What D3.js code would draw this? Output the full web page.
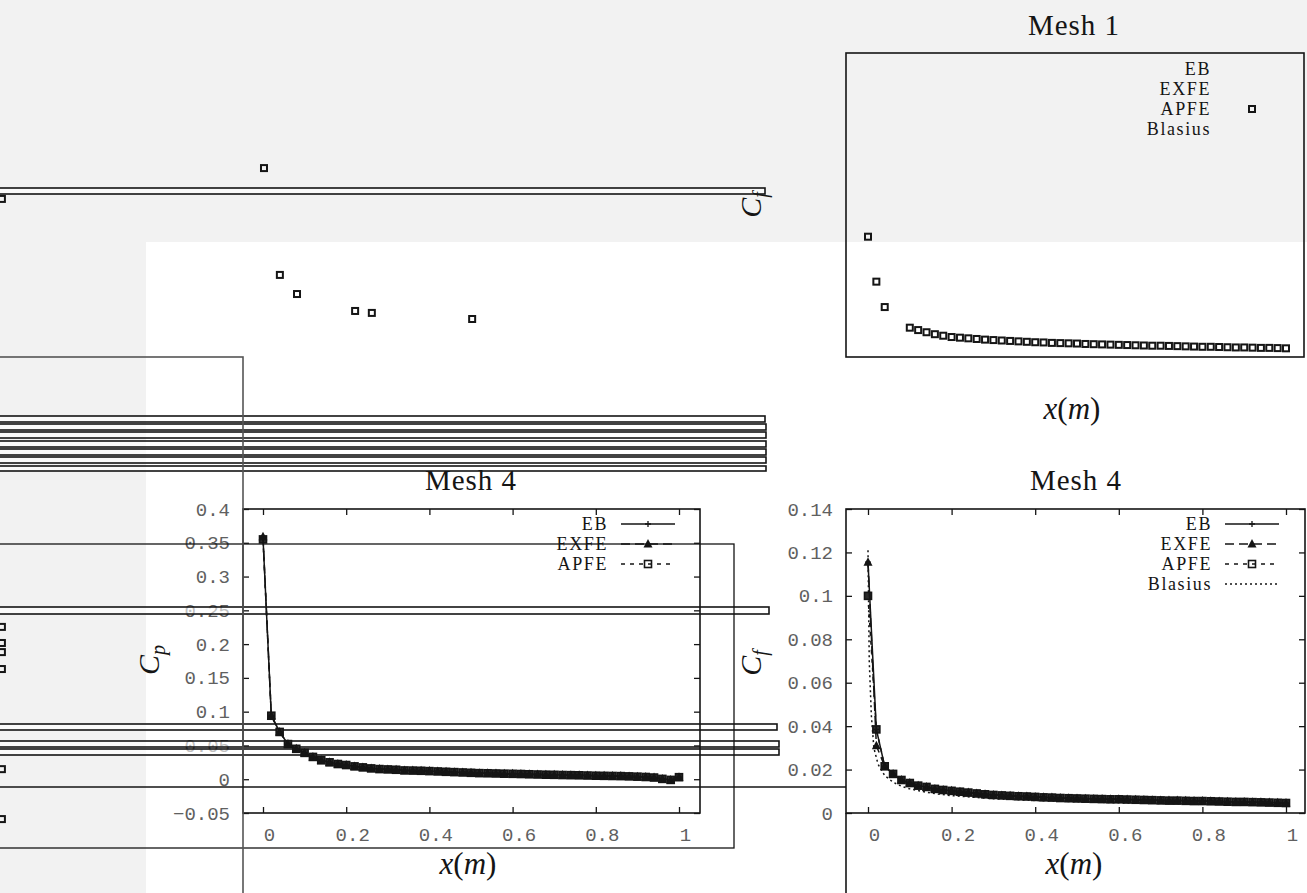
<!DOCTYPE html>
<html>
<head>
<meta charset="utf-8">
<script src="https://cdn.jsdelivr.net/npm/d3@7/dist/d3.min.js"></script>
<style>
  html, body { margin: 0; padding: 0; background: #fff; }
  svg { display: block; }
</style>
</head>
<body>
<svg id="chart" width="1307" height="893"></svg>
<script>
// ---------------- data ----------------
const xGrid = [0.00,0.02,0.04,0.06,0.08,0.10,0.12,0.14,0.16,0.18,0.20,0.22,0.24,0.26,0.28,0.30,0.32,0.34,0.36,0.38,
               0.40,0.42,0.44,0.46,0.48,0.50,0.52,0.54,0.56,0.58,0.60,0.62,0.64,0.66,0.68,0.70,0.72,0.74,0.76,0.78,
               0.80,0.82,0.84,0.86,0.88,0.90,0.92,0.94,0.96,0.98,1.00];

// Mesh 4, pressure coefficient
const cpEB   = [0.357,0.094,0.070,0.052,0.045,0.039,0.033,0.028,0.025,0.0225,0.021,0.019,0.0175,0.016,0.015,0.0145,0.014,0.013,0.0128,0.0125,
                0.012,0.0115,0.011,0.0105,0.010,0.0095,0.009,0.0088,0.0085,0.0082,0.008,0.0077,0.0073,0.007,0.0067,0.0065,0.0062,0.006,0.0058,0.0055,
                0.0052,0.005,0.0048,0.0046,0.0042,0.0038,0.0033,0.0025,0.0005,-0.001,0.003];
const cpEXFE = [0.359,0.094,0.070,0.052,0.045,0.039,0.033,0.028,0.025,0.0225,0.021,0.019,0.0175,0.016,0.015,0.0145,0.014,0.013,0.0128,0.0125,
                0.012,0.0115,0.011,0.0105,0.010,0.0095,0.009,0.0088,0.0085,0.0082,0.008,0.0077,0.0073,0.007,0.0067,0.0065,0.0062,0.006,0.0058,0.0055,
                0.0052,0.005,0.0048,0.0046,0.0042,0.0038,0.0033,0.0025,0.0005,-0.001,0.003];
const cpAPFE = [0.355,0.094,0.070,0.052,0.045,0.039,0.033,0.028,0.025,0.0225,0.021,0.019,0.0175,0.016,0.015,0.0145,0.014,0.013,0.0128,0.0125,
                0.012,0.0115,0.011,0.0105,0.010,0.0095,0.009,0.0088,0.0085,0.0082,0.008,0.0077,0.0073,0.007,0.0067,0.0065,0.0062,0.006,0.0058,0.0055,
                0.0052,0.005,0.0048,0.0046,0.0042,0.0038,0.0033,0.0025,0.0005,-0.001,0.003];

// Mesh 4, skin friction coefficient
const cfEB   = [0.1155,0.0385,0.0215,0.018,0.0152,0.0138,0.0126,0.012,0.0111,0.0106,0.0102,0.0098,0.0094,0.009,0.0086,0.0083,0.0081,0.0079,0.0077,0.0076,
                0.0074,0.0072,0.0071,0.0069,0.0068,0.0067,0.0066,0.0065,0.0064,0.0063,0.0063,0.0062,0.0061,0.006,0.0059,0.0058,0.0057,0.0057,0.0056,0.0055,
                0.0055,0.0054,0.0053,0.0052,0.0051,0.0051,0.005,0.0049,0.0048,0.0047,0.0046];
const cfEXFE = [0.1155,0.031,0.0215,0.018,0.0152,0.0138,0.0126,0.012,0.0111,0.0106,0.0102,0.0098,0.0094,0.009,0.0086,0.0083,0.0081,0.0079,0.0077,0.0076,
                0.0074,0.0072,0.0071,0.0069,0.0068,0.0067,0.0066,0.0065,0.0064,0.0063,0.0063,0.0062,0.0061,0.006,0.0059,0.0058,0.0057,0.0057,0.0056,0.0055,
                0.0055,0.0054,0.0053,0.0052,0.0051,0.0051,0.005,0.0049,0.0048,0.0047,0.0046];
const cfAPFE = [0.100,0.0385,0.0215,0.018,0.0152,0.0138,0.0126,0.012,0.0111,0.0106,0.0102,0.0098,0.0094,0.009,0.0086,0.0083,0.0081,0.0079,0.0077,0.0076,
                0.0074,0.0072,0.0071,0.0069,0.0068,0.0067,0.0066,0.0065,0.0064,0.0063,0.0063,0.0062,0.0061,0.006,0.0059,0.0058,0.0057,0.0057,0.0056,0.0055,
                0.0055,0.0054,0.0053,0.0052,0.0051,0.0051,0.005,0.0049,0.0048,0.0047,0.0046];
const blasiusX  = [0.0,0.003,0.008,0.014,0.024,0.04,0.06,0.08,0.10,0.15,0.20,0.30,0.40,0.50,0.60,0.70,0.80,0.90,1.00];
const blasiusCf = [0.121,0.070,0.045,0.030,0.0225,0.0172,0.0142,0.0123,0.0111,0.0092,0.0080,0.0066,0.0058,0.0052,0.0047,0.0044,0.0041,0.0039,0.0037];

// Mesh 1, APFE skin friction
const mesh1X    = [0.00,0.02,0.04,0.10,0.12,0.14,0.16,0.18,0.20,0.22,0.24,0.26,0.28,0.30,0.32,0.34,0.36,0.38,
                   0.40,0.42,0.44,0.46,0.48,0.50,0.52,0.54,0.56,0.58,0.60,0.62,0.64,0.66,0.68,0.70,0.72,0.74,0.76,0.78,
                   0.80,0.82,0.84,0.86,0.88,0.90,0.92,0.94,0.96,0.98,1.00];
const mesh1APFE = [0.0554,0.0347,0.023,0.0135,0.0124,0.0114,0.0105,0.0098,0.0092,0.0089,0.0086,0.0083,0.008,0.0078,0.0076,0.0074,0.0072,0.007,
                   0.0068,0.0067,0.0065,0.0064,0.0063,0.0062,0.006,0.0059,0.0058,0.0057,0.0056,0.0055,0.0054,0.0053,0.0052,0.0052,0.0051,0.005,0.0049,0.0048,
                   0.0047,0.0047,0.0046,0.0045,0.0044,0.0044,0.0043,0.0042,0.0042,0.0041,0.004];
// stray Mesh 1 markers that land outside the frame
const strayX = [-1.445,-1.407,-1.366,-1.227,-1.187,-0.947,-2.072,-2.072,-2.072,-2.072,-2.072,-2.072,-2.072];
const strayY = [0.087,0.0378,0.029,0.0212,0.0203,0.0175,0.0728,-0.1243,-0.1317,-0.1359,-0.1437,-0.1898,-0.2128];

const xTicks  = [0,0.2,0.4,0.6,0.8,1];
const cpTicks = [-0.05,0,0.05,0.1,0.15,0.2,0.25,0.3,0.35,0.4];
const cfTicks = [0,0.02,0.04,0.06,0.08,0.1,0.12,0.14];
const seriesCp = ["EB","EXFE","APFE"];
const seriesCf = ["EB","EXFE","APFE","Blasius"];

// ---------------- layout ----------------
const W = 1307, H = 893;
const INK = "#151515";
const SERIF = "'Liberation Serif','DejaVu Serif',serif";
const MONO = "'Liberation Mono','DejaVu Sans Mono',monospace";

const svg = d3.select("#chart");

// background
svg.append("rect").attr("x",0).attr("y",0).attr("width",W).attr("height",H).attr("fill","#fff");
svg.append("rect").attr("x",0).attr("y",0).attr("width",W).attr("height",242).attr("fill","#f2f2f2");
svg.append("rect").attr("x",0).attr("y",242).attr("width",146).attr("height",H-242).attr("fill","#f2f2f2");

const panels = {
  cp:    { x0:243, x1:700,  y0:509, y1:813, xr:[263,679],  yd:[-0.05,0.4] },
  cf:    { x0:846, x1:1305, y0:509, y1:813, xr:[868,1286], yd:[0,0.14] },
  mesh1: { x0:846, x1:1304, y0:53,  y1:357, xr:[868,1286], yd:[0,0.14] }
};
for (const k in panels) {
  const p = panels[k];
  p.x = d3.scaleLinear().domain([0,1]).range(p.xr);
  p.y = d3.scaleLinear().domain(p.yd).range([p.y1,p.y0]);
}

const labelLayer = svg.append("g");
const stripeLayer = svg.append("g");
const plotLayer = svg.append("g");
const topLayer = svg.append("g");

// ---- tick labels ----
function tickLabels(p, yTicks) {
  const fmt = d3.format("~g");
  const gy = labelLayer.append("g").attr("transform",`translate(${p.x0},0)`)
    .call(d3.axisLeft(p.y).tickValues(yTicks).tickSize(0).tickPadding(13).tickFormat(fmt));
  const gx = labelLayer.append("g").attr("transform",`translate(0,${p.y1})`)
    .call(d3.axisBottom(p.x).tickValues(xTicks).tickSize(0).tickPadding(15).tickFormat(fmt));
  gx.selectAll("text").attr("dx",6);
  [gy,gx].forEach(g => {
    g.select(".domain").remove();
    g.attr("font-family",null).attr("font-size",null);
    g.selectAll("text").attr("font-family",MONO).attr("font-size",19).attr("fill","#606060");
  });
}
tickLabels(panels.cp, cpTicks);
tickLabels(panels.cf, cfTicks);

// ---- horizontal strips crossing the page ----
const stripes = [[188,194,765],[416,422,765],[424,430,766],[432,438,766],[441,447,766],[449,455,766],
                 [457,463,766],[466,471,766],[607,614,769],[724,730,777],[741,747,779],[749,755,779]];
stripes.forEach(s => {
  stripeLayer.append("rect").attr("x",-2).attr("y",s[0]).attr("width",s[2]+2).attr("height",s[1]-s[0])
    .attr("fill","rgba(255,255,255,0.6)").attr("stroke",INK).attr("stroke-width",1.6);
});

// ---- frames and inward ticks ----
function frame(p, yTicks, withTicks) {
  const g = plotLayer.append("g");
  if (withTicks) {
    const parts = [
      [d3.axisLeft(p.y).tickValues(yTicks), `translate(${p.x0},0)`],
      [d3.axisRight(p.y).tickValues(yTicks), `translate(${p.x1},0)`],
      [d3.axisTop(p.x).tickValues(xTicks), `translate(0,${p.y0})`],
      [d3.axisBottom(p.x).tickValues(xTicks), `translate(0,${p.y1})`]
    ];
    parts.forEach(([ax,tr]) => {
      const a = g.append("g").attr("transform",tr).call(ax.tickSize(-6).tickFormat(""));
      a.select(".domain").remove();
      a.selectAll("line").attr("stroke",INK).attr("stroke-width",1.3);
    });
  }
  g.append("rect").attr("x",p.x0).attr("y",p.y0).attr("width",p.x1-p.x0).attr("height",p.y1-p.y0)
    .attr("fill","none").attr("stroke",INK).attr("stroke-width",1.6);
}
frame(panels.cp, cpTicks, true);
frame(panels.cf, cfTicks, true);
frame(panels.mesh1, cfTicks, false);

// ---- markers ----
function plus(g, cx, cy) {
  g.append("path").attr("d",`M${cx-3},${cy}H${cx+3}M${cx},${cy-3}V${cy+3}`)
    .attr("stroke",INK).attr("stroke-width",1.3).attr("fill","none");
}
function tri(g, cx, cy) {
  g.append("path").attr("d",`M${cx},${cy-5}L${cx+4.5},${cy+3.5}L${cx-4.5},${cy+3.5}Z`).attr("fill",INK);
}
function square(g, cx, cy, s, fill, sw) {
  g.append("rect").attr("x",cx-s/2).attr("y",cy-s/2).attr("width",s).attr("height",s)
    .attr("fill",fill || "none").attr("stroke",INK).attr("stroke-width",sw || 1.6);
}
const styles = {
  EB:      { dash: null,   marker: plus },
  EXFE:    { dash: "9,5",  marker: tri },
  APFE:    { dash: "4,5",  marker: (g,cx,cy) => square(g,cx,cy,7) },
  Blasius: { dash: "2,3",  marker: null }
};

function series(p, xs, ys, name, dense) {
  const g = plotLayer.append("g");
  const st = styles[name];
  const line = d3.line().x((d,i) => p.x(xs[i])).y(d => p.y(d));
  g.append("path").datum(ys).attr("d",line).attr("fill","none").attr("stroke",INK)
    .attr("stroke-width",1.5).attr("stroke-dasharray",st.dash);
  if (!st.marker) return;
  ys.forEach((v,i) => {
    if (name === "APFE" && dense) square(g, p.x(xs[i]), p.y(v), 7, "#2a2a2a", 1.6);
    else st.marker(g, p.x(xs[i]), p.y(v));
  });
}
series(panels.cp, xGrid, cpAPFE, "APFE", true);
series(panels.cp, xGrid, cpEXFE, "EXFE");
series(panels.cp, xGrid, cpEB, "EB");

series(panels.cf, blasiusX, blasiusCf, "Blasius");
series(panels.cf, xGrid, cfAPFE, "APFE", true);
series(panels.cf, xGrid, cfEXFE, "EXFE");
series(panels.cf, xGrid, cfEB, "EB");

// Mesh 1: only the APFE markers remain
const m1 = panels.mesh1;
mesh1APFE.forEach((v,i) => square(plotLayer, m1.x(mesh1X[i]), m1.y(v), 6, null, 2));
strayY.forEach((v,i) => square(plotLayer, m1.x(strayX[i]), m1.y(v), 6, null, 2));

// ---- legends ----
function legend(names, textX, rowY, showSamples) {
  const g = plotLayer.append("g");
  names.forEach((n,i) => {
    const y = rowY + i*20;
    g.append("text").attr("x",textX).attr("y",y).attr("dy","0.35em").attr("text-anchor","end")
      .attr("font-family",SERIF).attr("font-size",18).attr("letter-spacing",1.6).attr("fill",INK).text(n);
    if (showSamples) {
      const st = styles[n];
      g.append("line").attr("x1",textX+13).attr("x2",textX+67).attr("y1",y).attr("y2",y)
        .attr("stroke",INK).attr("stroke-width",1.4).attr("stroke-dasharray",st.dash);
      if (st.marker) st.marker(g, textX+40, y);
    }
  });
  return g;
}
legend(seriesCp, 608, 524, true);
legend(seriesCf, 1212, 524, true);
legend(seriesCf, 1211, 69, false);
square(plotLayer, 1252, 109, 6, null, 2);

// ---- titles and axis names ----
function title(txt, cx, by) {
  topLayer.append("text").attr("x",cx).attr("y",by).attr("text-anchor","middle")
    .attr("font-family",SERIF).attr("font-size",29).attr("letter-spacing",1).attr("fill",INK).text(txt);
}
title("Mesh 4", 471, 490);
title("Mesh 4", 1076, 490);
title("Mesh 1", 1074, 35);

function xName(cx, by) {
  const t = topLayer.append("text").attr("x",cx).attr("y",by).attr("text-anchor","middle")
    .attr("font-family",SERIF).attr("font-size",31).attr("fill",INK);
  t.append("tspan").attr("font-style","italic").text("x");
  t.append("tspan").text("(");
  t.append("tspan").attr("font-style","italic").text("m");
  t.append("tspan").text(")");
}
xName(468, 874);
xName(1074, 874);
xName(1072, 419);

function yName(sub, cx, cy) {
  const t = topLayer.append("g").attr("transform",`translate(${cx},${cy}) rotate(-90)`)
    .append("text").attr("text-anchor","middle").attr("dy","0.35em")
    .attr("font-family",SERIF).attr("font-size",30).attr("fill",INK);
  t.append("tspan").attr("font-style","italic").text("C");
  t.append("tspan").attr("font-style","italic").attr("font-size",20).attr("dy",6).text(sub);
}
yName("p", 148, 660);
yName("f", 750, 663);
yName("f", 750, 205);

// ---- stray outlines ----
topLayer.append("rect").attr("x",-2).attr("y",544).attr("width",736).attr("height",304)
  .attr("fill","none").attr("stroke",INK).attr("stroke-width",1.3);
topLayer.append("rect").attr("x",-2).attr("y",357).attr("width",245).attr("height",H)
  .attr("fill","none").attr("stroke","#555").attr("stroke-width",1.6);
topLayer.append("line").attr("x1",0).attr("x2",846).attr("y1",787).attr("y2",787)
  .attr("stroke",INK).attr("stroke-width",1.3);
topLayer.append("line").attr("x1",846).attr("x2",846).attr("y1",813).attr("y2",H)
  .attr("stroke",INK).attr("stroke-width",1.6);
</script>
</body>
</html>
